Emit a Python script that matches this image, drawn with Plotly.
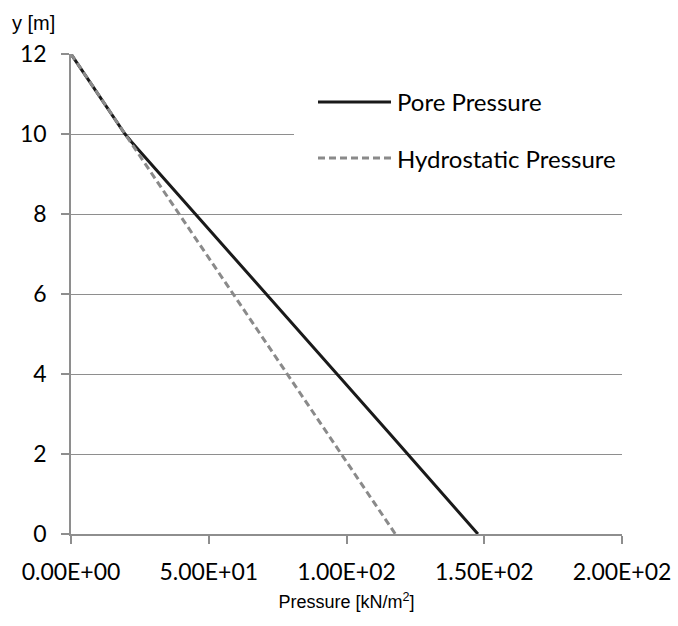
import plotly.graph_objects as go

# Depth below surface reference (m) and pressures (kN/m^2)
depth_y = [12, 10, 9.8, 7.5, 5, 2.5, 0]
pore_pressure = [0, 19.6, 22.0, 51.6, 83.7, 115.8, 147.7]
hydro_y = [12, 10, 7.5, 5, 2.5, 0]
hydro_pressure = [0, 19.62, 44.15, 68.67, 93.2, 117.72]

x_tick_vals = [0, 50, 100, 150, 200]
x_tick_text = ["0.00E+00", "5.00E+01", "1.00E+02", "1.50E+02", "2.00E+02"]
y_tick_vals = [0, 2, 4, 6, 8, 10, 12]

series_names = ["Pore Pressure", "Hydrostatic Pressure"]

W, H = 678, 626
L, R, T, B = 71, 56, 54, 92
PW, PH = W - L - R, H - T - B

GRID = "#8e8e8e"
TICK_FONT = dict(family="Lato, Carlito, sans-serif", size=23, color="#000000")
LEGEND_FONT = dict(family="Lato, Carlito, sans-serif", size=24, color="#000000")
CAPTION_FONT = "Liberation Sans Narrow, Liberation Sans, Arial, sans-serif"

pore_style = dict(color="#1a1a1a", width=3)
hydro_style = dict(color="#8a8a8a", width=3, dash="7px,4px")

fig = go.Figure()
fig.add_trace(go.Scatter(x=pore_pressure, y=depth_y, mode="lines",
                         name=series_names[0], line=pore_style,
                         showlegend=False))
fig.add_trace(go.Scatter(x=hydro_pressure, y=hydro_y, mode="lines",
                         name=series_names[1], line=hydro_style,
                         showlegend=False))


def px_to_paper(px, py):
    return (px - L) / PW, (H - B - py) / PH


# Legend panel drawn on top of the grid
x0, y0 = px_to_paper(294, 72)
x1, y1 = px_to_paper(624, 188)
fig.add_shape(type="rect", xref="paper", yref="paper", x0=x0, x1=x1, y0=y1, y1=y0,
              fillcolor="white", line=dict(width=0), layer="above")

for i, (name, style) in enumerate(zip(series_names, [pore_style, hydro_style])):
    py = 102 + i * 56
    lx0, ly = px_to_paper(318, py)
    lx1, _ = px_to_paper(391, py)
    fig.add_shape(type="line", xref="paper", yref="paper", x0=lx0, x1=lx1, y0=ly, y1=ly,
                  line=style, layer="above")
    tx, _ = px_to_paper(395, py)
    fig.add_annotation(x=tx, y=ly, xref="paper", yref="paper", text=name,
                       showarrow=False, xanchor="left", yanchor="middle",
                       font=LEGEND_FONT)

# Y axis caption in the upper-left corner
cx, cy = px_to_paper(10, 23)
fig.add_annotation(x=cx, y=cy, xref="paper", yref="paper", text="y [m]",
                   showarrow=False, xanchor="left", yanchor="middle",
                   font=dict(family=CAPTION_FONT, size=20, color="#000000"))

fig.update_layout(
    width=W, height=H,
    margin=dict(l=L, r=R, t=T, b=B, autoexpand=False),
    paper_bgcolor="white", plot_bgcolor="white",
    showlegend=False,
    xaxis=dict(
        range=[0, 200], tickvals=x_tick_vals, ticktext=x_tick_text,
        showgrid=False, zeroline=False,
        showline=True, linecolor=GRID, linewidth=2,
        ticks="outside", ticklen=8, tickcolor=GRID, tickwidth=1.5,
        tickfont=TICK_FONT, ticklabelstandoff=8,
        title=dict(text="Pressure [kN/m<sup>2</sup>]", standoff=12,
                   font=dict(family=CAPTION_FONT, size=18, color="#000000")),
    ),
    yaxis=dict(
        range=[0, 12], tickvals=y_tick_vals,
        showgrid=True, gridcolor=GRID, gridwidth=1.3, zeroline=False,
        showline=True, linecolor=GRID, linewidth=1.5,
        ticks="outside", ticklen=8, tickcolor=GRID, tickwidth=1.5,
        tickfont=TICK_FONT, ticklabelstandoff=10,
    ),
)

fig.write_html("out.html")
